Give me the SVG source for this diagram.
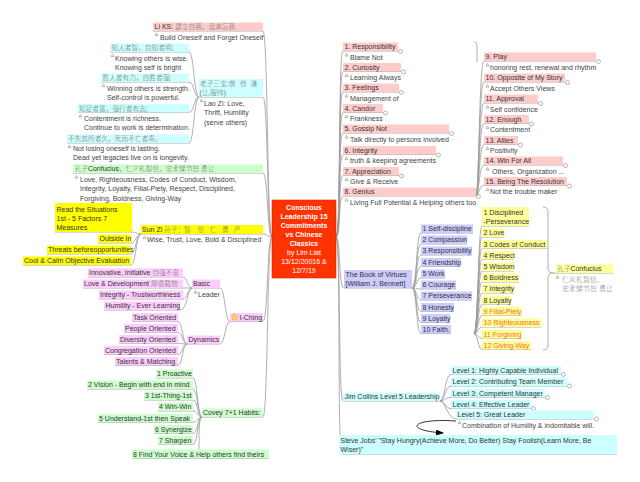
<svg xmlns="http://www.w3.org/2000/svg" xmlns:xlink="http://www.w3.org/1999/xlink" width="640" height="482" viewBox="0 0 640 482">
<style>
text{font-family:"Liberation Sans","Noto Sans CJK SC",sans-serif;font-size:7px;fill:#333}
.zh{fill:#6a6a6a;font-size:6.7px;font-weight:300}
.n{fill:#444}
.w{fill:#fff;font-weight:bold}
.wr{fill:#fff}
.or{fill:#ff6a1a}
.g{fill:#777;font-weight:300}
.c{fill:none;stroke:#9a9a9a;stroke-width:0.8}
.pk{fill:#ffcccc}.cy{fill:#ccffff}.gr{fill:#ccffcc}.ye{fill:#ffff00}.ly{fill:#ffff99}.vi{fill:#ffccff}.lv{fill:#ccccff}
.ci{fill:#fff;stroke:#888;stroke-width:0.6}
.car{fill:none;stroke:#777;stroke-width:0.5}
</style>
<defs>
<path id="car" class="car" d="M0,2.6 L1.5,0 L3,2.6 Z"/>
<marker id="ah" markerWidth="8" markerHeight="6" refX="7" refY="3" orient="auto" markerUnits="userSpaceOnUse"><path d="M0,0 L8,3 L0,6 Z" fill="#000"/></marker>
</defs>
<rect width="640" height="482" fill="#fff"/>

<g id="connectors">
<path class="c" d="M272,237 C267,237 268,31 263,31 L153,31"/>
<path class="c" d="M272,237 C267,237 268,97 263,97 L199,97"/>
<path class="c" d="M272,237 C267,237 268,173 263,173 L73,173"/>
<path class="c" d="M272,237 C267,237 268,234 263,234 L141,234"/>
<path class="c" d="M272,237 C267,237 268,321.5 263,321.5 L230,321.5"/>
<path class="c" d="M272,237 C267,237 268,417 263,417 L202,417"/>
<path class="c" d="M199,97 C194,97 194,52 189,52 L110,52"/>
<path class="c" d="M199,97 C194,97 194,82 189,82 L101,82"/>
<path class="c" d="M199,97 C194,97 194,112.5 189,112.5 L78,112.5"/>
<path class="c" d="M199,97 C194,97 194,143 189,143 L67,143"/>
<path class="c" d="M141,234 C136,234 136,232 132,232 L55,232"/>
<path class="c" d="M141,234 C136,234 136,243 131,243 L98,243"/>
<path class="c" d="M141,234 C136,234 136,254 131,254 L47,254"/>
<path class="c" d="M141,234 C136,234 136,265 131,265 L23,265"/>
<path class="c" d="M230,321.5 C225,321.5 225,288 220,288 L192,288"/>
<path class="c" d="M230,321.5 C225,321.5 225,344 220,344 L187,344"/>
<path class="c" d="M192,288 C187.5,288 187.5,277 183,277 L88,277"/>
<path class="c" d="M192,288 C187.5,288 187.5,288 183,288 L83,288"/>
<path class="c" d="M192,288 C187.5,288 187.5,299 183,299 L99,299"/>
<path class="c" d="M192,288 C187.5,288 187.5,310 180,310 L104,310"/>
<path class="c" d="M187,344 C182.5,344 182.5,321.5 178,321.5 L132,321.5"/>
<path class="c" d="M187,344 C182.5,344 182.5,332.5 178,332.5 L124,332.5"/>
<path class="c" d="M187,344 C182.5,344 182.5,343.5 178,343.5 L119,343.5"/>
<path class="c" d="M187,344 C182.5,344 182.5,354.5 178,354.5 L104,354.5"/>
<path class="c" d="M187,344 C182.5,344 182.5,365.5 178,365.5 L115,365.5"/>
<path class="c" d="M202,417 C197.5,417 197.5,378 193,378 L156,378"/>
<path class="c" d="M202,417 C197.5,417 197.5,389 193,389 L87,389"/>
<path class="c" d="M202,417 C197.5,417 197.5,400 193,400 L144,400"/>
<path class="c" d="M202,417 C197.5,417 197.5,411 193,411 L158,411"/>
<path class="c" d="M202,417 C197.5,417 197.5,422.5 193,422.5 L98,422.5"/>
<path class="c" d="M202,417 C197.5,417 197.5,433.5 193,433.5 L154,433.5"/>
<path class="c" d="M202,417 C197.5,417 197.5,444.5 193,444.5 L158,444.5"/>
<path class="c" d="M202,417 C199,417 199,432 199,449.5"/>
<path class="c" d="M132,458.5 L269,458.5"/>
<path class="c" d="M336,237 C341,237 338,51 343,51 L398,51"/>
<path class="c" d="M336,237 C341,237 338,71.5 343,71.5 L401,71.5"/>
<path class="c" d="M336,237 C341,237 338,92 343,92 L399,92"/>
<path class="c" d="M336,237 C341,237 338,112.5 343,112.5 L383,112.5"/>
<path class="c" d="M336,237 C341,237 338,133 343,133 L449,133"/>
<path class="c" d="M336,237 C341,237 338,154.5 343,154.5 L436,154.5"/>
<path class="c" d="M336,237 C341,237 338,175.5 343,175.5 L399,175.5"/>
<path class="c" d="M336,237 C341,237 338,196 343,196 L476,196"/>
<path class="c" d="M336,237 C341,237 338,288 344,288 L412,288"/>
<path class="c" d="M336,237 C341,237 338,401 343,401 L440,401"/>
<path class="c" d="M336,237 C341,237 337,454 342,454 L617,454"/>
<path class="c" d="M474,41.5 Q477,42 477,47 L477,62"/>
<path class="c" d="M476,196 C479,196 479,61 484,61 L596,61"/>
<path class="c" d="M476,196 C479,196 479,82 484,82 L565,82"/>
<path class="c" d="M476,196 C479,196 479,103 484,103 L538,103"/>
<path class="c" d="M476,196 C479,196 479,123.5 484,123.5 L529,123.5"/>
<path class="c" d="M476,196 C479,196 479,144.5 484,144.5 L518,144.5"/>
<path class="c" d="M476,196 C479,196 479,165 484,165 L563,165"/>
<path class="c" d="M476,196 C479,196 479,185.5 484,185.5 L567,185.5"/>
<path class="c" d="M412,288 C417,288 416,233 421,233 L473,233"/>
<path class="c" d="M412,288 C417,288 416,244 421,244 L467,244"/>
<path class="c" d="M412,288 C417,288 416,255 421,255 L472,255"/>
<path class="c" d="M412,288 C417,288 416,266.5 421,266.5 L461,266.5"/>
<path class="c" d="M412,288 C417,288 416,278 421,278 L445,278"/>
<path class="c" d="M412,288 C417,288 416,289 421,289 L456,289"/>
<path class="c" d="M412,288 C417,288 416,300 421,300 L472,300"/>
<path class="c" d="M412,288 C417,288 416,311.5 421,311.5 L454,311.5"/>
<path class="c" d="M412,288 C417,288 416,322.5 421,322.5 L450,322.5"/>
<path class="c" d="M412,288 C417,288 416,333.5 421,333.5 L451,333.5"/>
<path class="c" d="M474,334 C478,334 478,226 482,226 L529,226"/>
<path class="c" d="M474,334 C478,334 478,237 482,237 L504,237"/>
<path class="c" d="M474,334 C478,334 478,248.5 482,248.5 L547,248.5"/>
<path class="c" d="M474,334 C478,334 478,259.5 482,259.5 L514,259.5"/>
<path class="c" d="M474,334 C478,334 478,271 482,271 L514,271"/>
<path class="c" d="M474,334 C478,334 478,282 482,282 L519,282"/>
<path class="c" d="M474,334 C478,334 478,293 482,293 L514,293"/>
<path class="c" d="M474,334 C478,334 478,304.5 482,304.5 L511,304.5"/>
<path class="c" d="M474,334 C478,334 478,315.5 482,315.5 L522,315.5"/>
<path class="c" d="M474,334 C478,334 478,327 482,327 L541,327"/>
<path class="c" d="M474,334 C478,334 478,338.5 482,338.5 L522,338.5"/>
<path class="c" d="M474,334 C478,334 478,349.5 482,349.5 L531,349.5"/>
<path class="c" d="M543,207 Q548,207 548,212 L548,268 Q548,273 553,273 L613,273 M553,273 Q548,273 548,278 L548,345 Q548,350 543,350"/>
<path class="c" d="M440,401 C445,401 445,374.5 451,374.5 L561,374.5"/>
<path class="c" d="M440,401 C445,401 445,386 451,386 L567,386"/>
<path class="c" d="M440,401 C445,401 445,397.5 451,397.5 L545,397.5"/>
<path class="c" d="M440,401 C445,401 445,408.5 451,408.5 L531,408.5"/>
<path class="c" d="M440,401 C445,401 448,419 456,419 L594,419"/>
<path d="M456,421 C412,418 402,430 443,433" fill="none" stroke="#000" stroke-width="0.8" marker-end="url(#ah)"/>
</g>

<g id="center">
<rect x="272" y="200" width="64" height="78" fill="#ff3300" stroke="#d42a00" stroke-width="0.6"/>
<text x="304" y="209.5" text-anchor="middle" class="w">Conscious</text>
<text x="304" y="218.6" text-anchor="middle" class="w">Leadership 15</text>
<text x="304" y="227.7" text-anchor="middle" class="w">Commitments</text>
<text x="304" y="236.8" text-anchor="middle" class="w">vs Chinese</text>
<text x="304" y="245.9" text-anchor="middle" class="w">Classics</text>
<text x="304" y="255" text-anchor="middle" class="wr">by Lim Liat</text>
<text x="304" y="264.1" text-anchor="middle" class="wr">13/12/20016 &amp;</text>
<text x="304" y="273.2" text-anchor="middle" class="wr">12/7/19</text>
</g>

<g id="liks">
<rect class="pk" x="153" y="22.5" width="110" height="8.5"/>
<text x="154.5" y="29.3">Li KS: <tspan class="zh">建立自我，追求忘我</tspan></text>
<use xlink:href="#car" x="155" y="33"/>
<text class="n" x="160" y="39.5">Build Oneself and Forget Oneself</text>
</g>
<g id="laozi">
<rect class="cy" x="199" y="79" width="64" height="18"/>
<text x="200" y="86"><tspan class="zh">老子三宝:</tspan><tspan class="zh" x="229">慈</tspan><tspan class="zh" x="240">俭</tspan><tspan class="zh" x="250.5">谦</tspan></text>
<text x="199.5" y="95"><tspan class="zh">(让,服侍)</tspan></text>
<use xlink:href="#car" x="200" y="99"/>
<text class="n" x="204" y="105.5">Lao Zi: Love,</text>
<text class="n" x="204" y="115">Thrift, Humility</text>
<text class="n" x="204" y="124.5">(serve others)</text>
</g>
<g id="lz1">
<rect class="cy" x="110" y="43.5" width="79" height="8.5"/>
<text x="111.5" y="50.3"><tspan class="zh">知人者智，自知者明;</tspan></text>
<use xlink:href="#car" x="111" y="54"/>
<text class="n" x="115" y="60.5">Knowing others is wise.</text>
<text class="n" x="115" y="69.8">Knowing self is bright</text>
</g>
<g id="lz2">
<rect class="cy" x="101" y="73.5" width="88" height="8.5"/>
<text x="102.5" y="80.3"><tspan class="zh">胜人者有力，自胜者强;</tspan></text>
<use xlink:href="#car" x="102" y="84"/>
<text class="n" x="107" y="90.5">Winning others is strength.</text>
<text class="n" x="107" y="100">Self-control is powerful.</text>
</g>
<g id="lz3">
<rect class="cy" x="78" y="104" width="111" height="8.5"/>
<text x="79" y="110.8"><tspan class="zh">知足者富，强行者有志;</tspan></text>
<use xlink:href="#car" x="79" y="114.5"/>
<text class="n" x="84" y="120.5">Contentment is richness.</text>
<text class="n" x="84" y="129.8">Continue to work is determination.</text>
</g>
<g id="lz4">
<rect class="cy" x="67" y="134.5" width="122" height="8.5"/>
<text x="68" y="141.3"><tspan class="zh">不失其所者久，死而不亡者寿。</tspan></text>
<use xlink:href="#car" x="68" y="145"/>
<text class="n" x="73" y="150.5">Not losing oneself is lasting.</text>
<text class="n" x="73" y="160">Dead yet legacies live on is longevity.</text>
</g>
<g id="confucius">
<rect class="gr" x="73" y="164.5" width="190" height="8.5"/>
<text x="74.5" y="171.3"><tspan class="zh">孔子</tspan>Confucius<tspan class="zh">，仁义礼智信，忠孝悌节恕 勇让</tspan></text>
<use xlink:href="#car" x="75" y="175.5"/>
<text class="n" x="80" y="181.5">Love, Righteousness, Codes of Conduct, Wisdom,</text>
<text class="n" x="80" y="191">Integrity, Loyalty, Filial-Piety, Respect, Disciplined,</text>
<text class="n" x="80" y="200.5">Forgiving, Boldness, Giving-Way</text>
</g>
<g id="sunzi">
<rect class="ye" x="141" y="225" width="122" height="9"/>
<text x="142" y="232">Sun Zi <tspan class="zh">孙子：</tspan><tspan class="zh" x="184">智</tspan><tspan class="zh" x="197.5">信</tspan><tspan class="zh" x="210">仁</tspan><tspan class="zh" x="222">勇</tspan><tspan class="zh" x="234">严</tspan></text>
<use xlink:href="#car" x="143" y="236"/>
<text class="n" x="147" y="241.8">Wise, Trust, Love, Bold &amp; Disciplined</text>
</g>
<g id="sz1">
<rect class="ye" x="55" y="203" width="77" height="29"/>
<text x="56.5" y="211.5">Read the Situations</text>
<text x="56.5" y="220.5">1st - 5 Factors 7</text>
<text x="56.5" y="229.5">Measures</text>
</g>
<g id="sz2"><rect class="ye" x="98" y="234.5" width="33" height="8.5"/><text x="99.5" y="241.3">Outside In</text></g>
<g id="sz3"><rect class="ye" x="47" y="245.5" width="84" height="8.5"/><text x="48" y="252.3">Threats beforeopportunities</text></g>
<g id="sz4"><rect class="ye" x="23" y="256.5" width="108" height="8.5"/><text x="24" y="263.3">Cool &amp; Calm Objective Evaluation</text></g>

<g id="iching">
<rect class="vi" x="230" y="313" width="33" height="8.5"/>
<polygon points="234.5,313.6 235.5,316 238,316.1 236.1,317.7 236.8,320.2 234.5,318.8 232.2,320.2 232.9,317.7 231,316.1 233.5,316" fill="#ffe033" stroke="#d49a00" stroke-width="0.4"/>
<text x="239.5" y="319.8">I-Ching</text>
</g>
<g id="basic">
<rect class="vi" x="192" y="279.5" width="28" height="8.5"/>
<text x="193" y="286.3">Basic</text>
<use xlink:href="#car" x="194" y="290.5"/>
<text class="n" x="198" y="296.5">Leader</text>
</g>
<g id="b1"><rect class="vi" x="88" y="268.5" width="95" height="8.5"/><text x="89" y="275.3">Innovative, Initiative <tspan class="zh">自强不息</tspan></text></g>
<g id="b2"><rect class="vi" x="83" y="279.5" width="100" height="8.5"/><text x="84" y="286.3">Love &amp; Development <tspan class="zh">厚德载物</tspan></text></g>
<g id="b3"><rect class="vi" x="99" y="290.5" width="84" height="8.5"/><text x="100" y="297.3">Integrity - Trustworthiness</text></g>
<g id="b4"><rect class="vi" x="104" y="301.5" width="76" height="8.5"/><text x="105.5" y="308.3">Humility - Ever Learning</text></g>
<g id="dynamics"><rect class="vi" x="187" y="335.5" width="33" height="8.5"/><text x="188.5" y="342.3">Dynamics</text></g>
<g id="d1"><rect class="vi" x="132" y="313" width="46" height="8.5"/><text x="133" y="319.8">Task Oriented</text></g>
<g id="d2"><rect class="vi" x="124" y="324" width="54" height="8.5"/><text x="125" y="330.8">People Oriented</text></g>
<g id="d3"><rect class="vi" x="119" y="335" width="59" height="8.5"/><text x="120" y="341.8">Diversity Oriented</text></g>
<g id="d4"><rect class="vi" x="104" y="346" width="74" height="8.5"/><text x="105" y="352.8">Congregation Oriented</text></g>
<g id="d5"><rect class="vi" x="115" y="357" width="63" height="8.5"/><text x="116" y="363.8">Talents &amp; Matching</text></g>

<g id="covey"><rect class="gr" x="202" y="408.5" width="61" height="8.5"/><text x="203" y="415.3">Covey 7+1 Habits:</text></g>
<g id="c1"><rect class="gr" x="156" y="369.5" width="37" height="8.5"/><text x="157" y="376.3">1 Proactive</text></g>
<g id="c2"><rect class="gr" x="87" y="380.5" width="106" height="8.5"/><text x="88" y="387.3">2 Vision - Begin with end in mind</text></g>
<g id="c3"><rect class="gr" x="144" y="391.5" width="49" height="8.5"/><text x="145" y="398.3">3 1st-Thing-1st</text></g>
<g id="c4"><rect class="gr" x="158" y="402.5" width="35" height="8.5"/><text x="159" y="409.3">4 Win-Win</text></g>
<g id="c5"><rect class="gr" x="98" y="414" width="95" height="8.5"/><text x="99" y="420.8">5 Understand-1st then Speak</text></g>
<g id="c6"><rect class="gr" x="154" y="425" width="39" height="8.5"/><text x="155" y="431.8">6 Synergize</text></g>
<g id="c7"><rect class="gr" x="158" y="436" width="35" height="8.5"/><text x="159" y="442.8">7 Sharpen</text></g>
<g id="c8"><rect class="gr" x="132" y="449.5" width="137" height="9"/><text x="133" y="456.5">8 Find Your Voice &amp; Help others find theirs</text></g>

<g id="r1"><rect class="pk" x="343" y="42.5" width="55" height="8.5"/><text x="344.5" y="49.3">1. Responsibility</text><use xlink:href="#car" x="345" y="53.5"/><text class="n" x="350" y="59.8">Blame Not</text><circle class="ci" cx="400.5" cy="51.5" r="2"/></g>
<g id="r2"><rect class="pk" x="343" y="63" width="58" height="8.5"/><text x="344.5" y="69.8">2. Curiosity</text><use xlink:href="#car" x="345" y="74"/><text class="n" x="350" y="80.3">Learning Always</text><circle class="ci" cx="403.5" cy="72" r="2"/></g>
<g id="r3"><rect class="pk" x="343" y="83.5" width="56" height="8.5"/><text x="344.5" y="90.3">3. Feelings</text><use xlink:href="#car" x="345" y="94.5"/><text class="n" x="350" y="100.8">Management of</text><circle class="ci" cx="401.5" cy="92.5" r="2"/></g>
<g id="r4"><rect class="pk" x="343" y="104" width="40" height="8.5"/><text x="344.5" y="110.8">4. Candor</text><use xlink:href="#car" x="345" y="115"/><text class="n" x="350" y="121.3">Frankness</text><circle class="ci" cx="385.5" cy="113" r="2"/></g>
<g id="r5"><rect class="pk" x="343" y="124.5" width="106" height="8.5"/><text x="344.5" y="131.3">5. Gossip Not</text><use xlink:href="#car" x="345" y="135.5"/><text class="n" x="350" y="141.8">Talk directly to persons involved</text><circle class="ci" cx="451.5" cy="133.5" r="2"/></g>
<g id="r6"><rect class="pk" x="343" y="146" width="93" height="8.5"/><text x="344.5" y="152.8">6. Integrity</text><use xlink:href="#car" x="345" y="157"/><text class="n" x="350" y="162.8">truth &amp; keeping agreements</text><circle class="ci" cx="438.5" cy="155" r="2"/></g>
<g id="r7"><rect class="pk" x="343" y="167" width="56" height="8.5"/><text x="344.5" y="173.8">7. Appreciation</text><use xlink:href="#car" x="345" y="178"/><text class="n" x="350" y="183.8">Give &amp; Receive</text><circle class="ci" cx="401.5" cy="176" r="2"/></g>
<g id="r8"><rect class="pk" x="343" y="187.5" width="133" height="8.5"/><text x="344.5" y="194.3">8. Genius</text><use xlink:href="#car" x="345" y="198.5"/><text class="n" x="350" y="204.8">Living Full Potential &amp; Helping others too</text><circle class="ci" cx="478.5" cy="196.5" r="2"/></g>

<g id="r9"><rect class="pk" x="484" y="52.5" width="112" height="8.5"/><text x="485.5" y="59.3">9. Play</text><use xlink:href="#car" x="486" y="63.5"/><text class="n" x="490" y="69.8">honoring rest, renewal and rhythm</text><circle class="ci" cx="598.5" cy="61.5" r="2"/></g>
<g id="r10"><rect class="pk" x="484" y="73.5" width="81" height="8.5"/><text x="485.5" y="80.3">10. Opposite of My Story</text><use xlink:href="#car" x="486" y="84.5"/><text class="n" x="490" y="90.8">Accept Others Views</text><circle class="ci" cx="567.5" cy="82.5" r="2"/></g>
<g id="r11"><rect class="pk" x="484" y="94.5" width="54" height="8.5"/><text x="485.5" y="101.3">11. Approval</text><use xlink:href="#car" x="486" y="105.5"/><text class="n" x="490" y="111.8">Self confidence</text><circle class="ci" cx="540.5" cy="103.5" r="2"/></g>
<g id="r12"><rect class="pk" x="484" y="115" width="45" height="8.5"/><text x="485.5" y="121.8">12. Enough</text><use xlink:href="#car" x="486" y="126"/><text class="n" x="490" y="131.8">Contentment</text><circle class="ci" cx="531.5" cy="124" r="2"/></g>
<g id="r13"><rect class="pk" x="484" y="136" width="34" height="8.5"/><text x="485.5" y="142.8">13. Allies</text><use xlink:href="#car" x="486" y="147"/><text class="n" x="490" y="152.8">Positivity</text><circle class="ci" cx="520.5" cy="145" r="2"/></g>
<g id="r14"><rect class="pk" x="484" y="156.5" width="79" height="8.5"/><text x="485.5" y="163.3">14. Win For All</text><use xlink:href="#car" x="486" y="167.5"/><text class="n" x="492" y="173.8">Others, Organization ...</text><circle class="ci" cx="565.5" cy="165.5" r="2"/></g>
<g id="r15"><rect class="pk" x="484" y="177" width="83" height="8.5"/><text x="485.5" y="183.8">15. Being The Resolution</text><use xlink:href="#car" x="486" y="188"/><text class="n" x="490" y="193.8">Not the trouble maker</text><circle class="ci" cx="569.5" cy="186" r="2"/></g>

<g id="book">
<rect class="lv" x="344" y="270" width="68" height="18"/>
<text x="345.5" y="276.8">The Book of Virtues</text>
<text x="345.5" y="286">[William J. Bennett]</text>
</g>
<g id="v1"><rect class="lv" x="421" y="224.5" width="52" height="8.5"/><text x="422.5" y="231.3">1 Self-discipline</text></g>
<g id="v2"><rect class="lv" x="421" y="235.5" width="46" height="8.5"/><text x="422.5" y="242.3">2 Compassion</text></g>
<g id="v3"><rect class="lv" x="421" y="246.5" width="51" height="8.5"/><text x="422.5" y="253.3">3 Responsibility</text></g>
<g id="v4"><rect class="lv" x="421" y="258" width="40" height="8.5"/><text x="422.5" y="264.8">4 Friendship</text></g>
<g id="v5"><rect class="lv" x="421" y="269.5" width="24" height="8.5"/><text x="422.5" y="276.3">5 Work</text></g>
<g id="v6"><rect class="lv" x="421" y="280.5" width="35" height="8.5"/><text x="422.5" y="287.3">6 Courage</text></g>
<g id="v7"><rect class="lv" x="421" y="291.5" width="51" height="8.5"/><text x="422.5" y="298.3">7 Perseverance</text></g>
<g id="v8"><rect class="lv" x="421" y="303" width="33" height="8.5"/><text x="422.5" y="309.8">8 Honesty</text></g>
<g id="v9"><rect class="lv" x="421" y="314" width="29" height="8.5"/><text x="422.5" y="320.8">9 Loyalty</text></g>
<g id="v10"><rect class="lv" x="421" y="325" width="30" height="8.5"/><text x="422.5" y="331.8">10 Faith.</text></g>

<g id="y1"><rect class="ly" x="482" y="207" width="47" height="19"/><text x="483.5" y="215.3">1 Disciplined</text><text x="483.5" y="224.3">-Perseverance</text></g>
<g id="y2"><rect class="ly" x="482" y="228.5" width="22" height="8.5"/><text x="483.5" y="235.3">2 Love</text></g>
<g id="y3"><rect class="ly" x="482" y="240" width="65" height="8.5"/><text x="483.5" y="246.8">3 Codes of Conduct</text></g>
<g id="y4"><rect class="ly" x="482" y="251" width="32" height="8.5"/><text x="483.5" y="257.8">4 Respect</text></g>
<g id="y5"><rect class="ly" x="482" y="262.5" width="32" height="8.5"/><text x="483.5" y="269.3">5 Wisdom</text></g>
<g id="y6"><rect class="ly" x="482" y="273.5" width="37" height="8.5"/><text x="483.5" y="280.3">6 Boldness</text></g>
<g id="y7"><rect class="ly" x="482" y="284.5" width="32" height="8.5"/><text x="483.5" y="291.3">7 Integrity</text></g>
<g id="y8"><rect class="ly" x="482" y="296" width="29" height="8.5"/><text x="483.5" y="302.8">8 Loyalty</text></g>
<g id="y9"><rect class="ly" x="482" y="307" width="40" height="8.5"/><text class="or" x="483.5" y="313.8">9 Filial-Piety</text></g>
<g id="y10"><rect class="ly" x="482" y="318.5" width="59" height="8.5"/><text class="or" x="483.5" y="325.3">10 Righteousness</text></g>
<g id="y11"><rect class="ly" x="482" y="330" width="40" height="8.5"/><text class="or" x="483.5" y="336.8">11 Forgiving</text></g>
<g id="y12"><rect class="ly" x="482" y="341" width="49" height="8.5"/><text class="or" x="483.5" y="347.8">12 Giving-Way</text></g>

<g id="confucius-r">
<rect class="ly" x="556" y="264.5" width="57" height="8.5"/>
<text x="557" y="271.3"><tspan class="zh">孔子</tspan>Confucius</text>
<use xlink:href="#car" x="556" y="275.5"/>
<text class="g" x="562" y="281.8">仁义礼智信、</text>
<text class="g" x="562" y="291.3">忠孝悌节恕 勇让</text>
</g>

<g id="jim"><rect class="cy" x="343" y="392.5" width="97" height="8.5"/><text x="344.5" y="399.3">Jim Collins Level 5 Leadership</text></g>
<g id="j1"><rect class="cy" x="451" y="366" width="110" height="8.5"/><text x="452.5" y="372.8">Level 1: Highly Capable Individual</text><circle class="ci" cx="563.5" cy="374.5" r="2"/></g>
<g id="j2"><rect class="cy" x="451" y="377.5" width="116" height="8.5"/><text x="452.5" y="384.3">Level 2: Contributing Team Member</text><circle class="ci" cx="569.5" cy="386" r="2"/></g>
<g id="j3"><rect class="cy" x="451" y="389" width="94" height="8.5"/><text x="452.5" y="395.8">Level 3: Competent Manager</text><circle class="ci" cx="547.5" cy="397.5" r="2"/></g>
<g id="j4"><rect class="cy" x="451" y="400" width="80" height="8.5"/><text x="452.5" y="406.8">Level 4: Effective Leader</text><circle class="ci" cx="533.5" cy="408.5" r="2"/></g>
<g id="j5"><rect class="cy" x="456" y="410.5" width="138" height="8.5"/><text x="457.5" y="417.3">Level 5: Great Leader</text><use xlink:href="#car" x="458" y="421"/><text class="n" x="462" y="427.8">Combination of Humility &amp; indomitable will.</text><circle class="ci" cx="596.5" cy="419" r="2"/></g>

<g id="jobs">
<rect class="cy" x="339" y="435" width="278" height="19"/>
<text x="340.5" y="442.5">Steve Jobs' "Stay Hungry(Achieve More, Do Better) Stay Foolish(Learn More, Be</text>
<text x="340.5" y="451.5">Wiser)"</text>
</g>
</svg>
